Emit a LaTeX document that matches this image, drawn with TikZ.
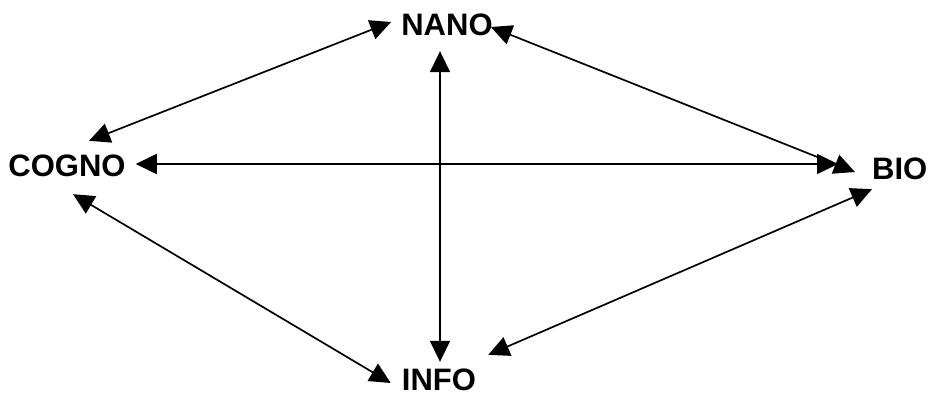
\documentclass[tikz,border=0pt]{standalone}
\usepackage{fontspec}
\setmainfont{Liberation Sans}
\usetikzlibrary{arrows.meta,calc}
\begin{document}
\begin{tikzpicture}[x=1pt,y=-1pt,
  lbl/.style={inner sep=0pt,font=\fontsize{31}{37}\selectfont\bfseries},
  link/.style={line width=1.7pt,{Triangle[length=21pt,width=20pt]}-{Triangle[length=21pt,width=20pt]}}]
\useasboundingbox (0,0) rectangle (929,394);
\node[lbl] (nano) at (447,25) {NANO};
\node[lbl] (cogno) at (67,166) {COGNO};
\node[lbl,anchor=west] (bio) at (872,169) {BIO};
\node[lbl] (info) at (439,380) {INFO};
\draw[link] ($(cogno.north)+(22,-14)$) -- ($(nano.west)+(-10,-3)$);
\draw[link] ($(nano.east)+(-2,2)$) -- ($(bio.west)+(-17,3)$);
\draw[link] ($(cogno.east)+(10,-2)$) -- ($(bio.west)+(-34,-5)$);
\draw[link] ($(nano.south)+(-7,15)$) -- ($(info.north)+(1,-7)$);
\draw[link] ($(cogno.south)+(6,17)$) -- ($(info.west)+(-11,3)$);
\draw[link] ($(bio.south west)+(0,9)$) -- ($(info.north east)+(12,-14)$);
\end{tikzpicture}
\end{document}
